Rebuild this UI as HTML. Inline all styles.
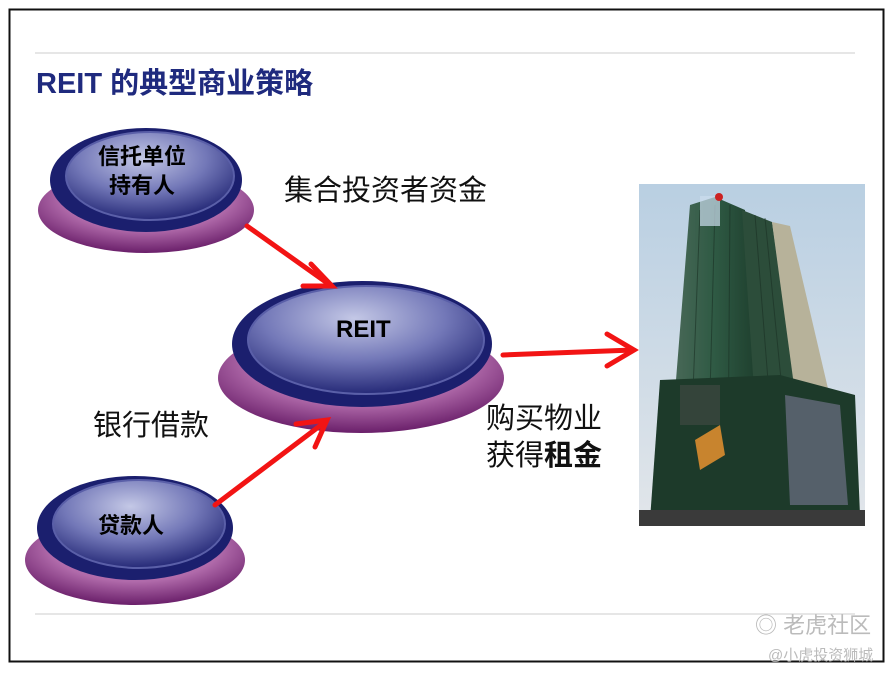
<!DOCTYPE html>
<html><head><meta charset="utf-8"><style>
body{margin:0;width:895px;height:674px;background:#fff;overflow:hidden;position:relative;font-family:"Liberation Sans","Noto Sans CJK SC",sans-serif}
.t{position:absolute;white-space:nowrap;color:#111}
</style></head><body>
<svg width="895" height="674" style="position:absolute;left:0;top:0">
<defs>
<radialGradient id="pu" cx="50%" cy="35%" r="65%"><stop offset="0" stop-color="#d69ad0"/><stop offset="0.6" stop-color="#b06aaa"/><stop offset="1" stop-color="#6a1f6a"/></radialGradient>
<radialGradient id="bl" cx="45%" cy="30%" r="70%"><stop offset="0" stop-color="#c4c8e6"/><stop offset="0.55" stop-color="#7378b8"/><stop offset="1" stop-color="#262a78"/></radialGradient>
<linearGradient id="sky" x1="0" y1="0" x2="0" y2="1"><stop offset="0" stop-color="#b9cfe2"/><stop offset="1" stop-color="#e2e6ea"/></linearGradient>
<linearGradient id="gl" x1="0" y1="0" x2="1" y2="0"><stop offset="0" stop-color="#4c6a5a"/><stop offset="0.5" stop-color="#2f5a44"/><stop offset="1" stop-color="#1d3d2c"/></linearGradient>
</defs>
<rect x="9.5" y="9.5" width="874" height="652" fill="none" stroke="#111" stroke-width="2"/>
<line x1="35" y1="53" x2="855" y2="53" stroke="#ddd" stroke-width="1.5"/>
<line x1="35" y1="614" x2="855" y2="614" stroke="#ccc" stroke-width="1"/>
<ellipse cx="146" cy="210" rx="108" ry="43" fill="url(#pu)"/>
<ellipse cx="146" cy="180" rx="96" ry="52" fill="#1b1f6e"/>
<ellipse cx="150" cy="176" rx="84" ry="44" fill="url(#bl)" stroke="#5a5fa8" stroke-width="2"/>
<ellipse cx="361" cy="378" rx="143" ry="55" fill="url(#pu)"/>
<ellipse cx="362" cy="344" rx="130" ry="63" fill="#1b1f6e"/>
<ellipse cx="366" cy="340" rx="118" ry="54" fill="url(#bl)" stroke="#5a5fa8" stroke-width="2"/>
<ellipse cx="135" cy="560" rx="110" ry="45" fill="url(#pu)"/>
<ellipse cx="135" cy="528" rx="98" ry="52" fill="#1b1f6e"/>
<ellipse cx="139" cy="524" rx="86" ry="44" fill="url(#bl)" stroke="#5a5fa8" stroke-width="2"/>
<g stroke="#f21414" stroke-width="5" fill="none" stroke-linecap="round">
<line x1="247" y1="226" x2="330" y2="285"/>
<polyline points="311,264 332,286 303,286"/>
<line x1="215" y1="505" x2="325" y2="422"/>
<polyline points="296,424 327,420 315,447"/>
<line x1="503" y1="355" x2="633" y2="350"/>
<polyline points="607,334 634,350 607,366"/>
</g>
<rect x="639" y="184" width="226" height="342" fill="url(#sky)"/>
<polygon points="668,480 690,205 715,197 745,210 760,470 720,490" fill="url(#gl)"/>
<polygon points="742,210 772,222 808,470 760,480" fill="#2c4d3a"/>
<polygon points="772,222 790,226 840,440 848,500 808,490" fill="#b7b29a"/>
<g stroke="#1a3024" stroke-width="1" opacity="0.6">
<line x1="700" y1="210" x2="690" y2="470"/><line x1="715" y1="205" x2="708" y2="470"/><line x1="730" y1="205" x2="728" y2="470"/><line x1="755" y1="215" x2="775" y2="470"/><line x1="765" y1="218" x2="790" y2="470"/>
</g>
<polygon points="660,380 780,375 855,395 860,515 650,520" fill="#1d3a2a"/>
<polygon points="785,395 840,405 848,505 790,505" fill="#55606a"/>
<rect x="680" y="385" width="40" height="40" fill="#34443a"/>
<polygon points="695,440 720,425 725,455 700,470" fill="#c8842e"/>
<rect x="639" y="510" width="226" height="16" fill="#3a3a3a"/>
<rect x="700" y="196" width="20" height="30" fill="#cde" opacity="0.7"/>
<circle cx="719" cy="197" r="4" fill="#c22"/>
</svg>
<div class="t" style="left:36px;top:60px;font-size:29px;font-weight:bold;color:#1f2a7e">REIT 的典型商业策略</div>
<div class="t" style="left:98px;top:142px;font-size:22px;font-weight:bold;line-height:29px;text-align:center;color:#000">信托单位<br>持有人</div>
<div class="t" style="left:336px;top:316px;font-size:24px;font-weight:bold;color:#000">REIT</div>
<div class="t" style="left:98px;top:508px;font-size:22px;font-weight:bold;color:#000">贷款人</div>
<div class="t" style="left:284px;top:167px;font-size:29px">集合投资者资金</div>
<div class="t" style="left:93px;top:402px;font-size:29px">银行借款</div>
<div class="t" style="left:486px;top:401px;font-size:29px;line-height:37px">购买物业<br>获得<b>租金</b></div>
<div class="t" style="left:755px;top:608px;font-size:22px;color:#bbb">◎ 老虎社区</div>
<div class="t" style="left:768px;top:644px;font-size:15px;color:#bbb">@小虎投资狮城</div>
</body></html>
